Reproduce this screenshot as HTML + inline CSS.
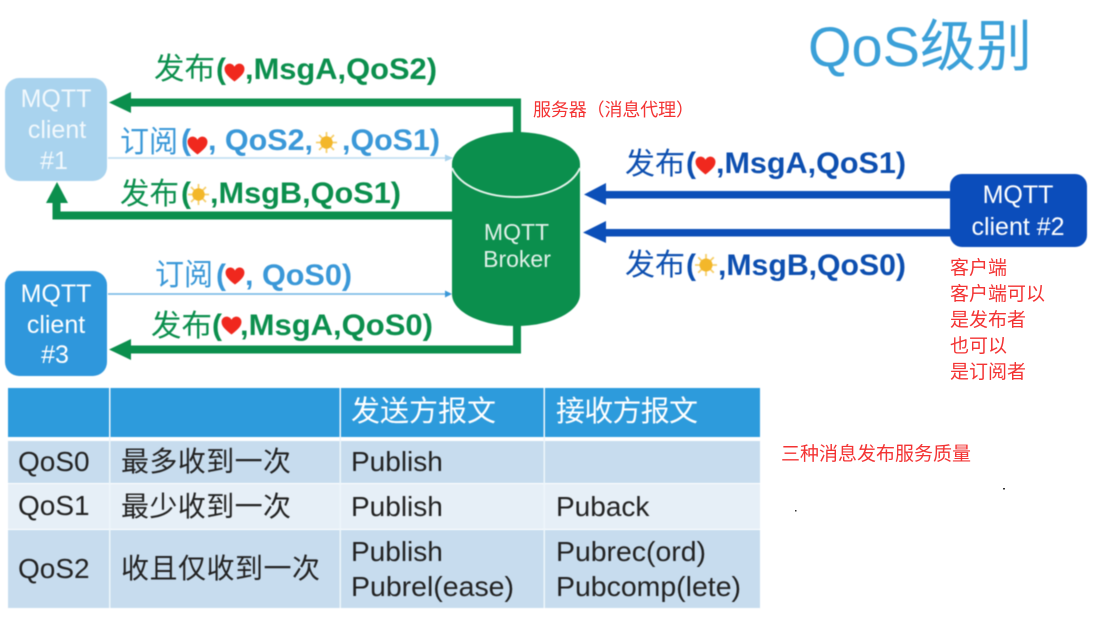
<!DOCTYPE html>
<html lang="zh">
<head>
<meta charset="utf-8">
<title>QoS级别</title>
<style>
html,body{margin:0;padding:0;background:#fff;width:1096px;height:618px;overflow:hidden}
svg{display:block}
text{font-family:"Liberation Sans","Noto Sans CJK SC",sans-serif}
.g{fill:#0b8f4d}.b{fill:#0d4fb0}.s{fill:#3a98d8}
.cj{font-size:30px;font-weight:400}
.la{font-size:30px;font-weight:700}
.w{fill:#fff;font-size:25px;text-anchor:middle}
.r{fill:#f33333;font-size:19px}
.t{fill:#222;font-size:28px}
.h{fill:#fff;font-size:29px}
.soft{filter:blur(.4px)}
</style>
</head>
<body>
<svg width="1096" height="618" viewBox="0 0 1096 618" xmlns="http://www.w3.org/2000/svg">
<defs>
<symbol id="heart" viewBox="0 0 22 20"><path d="M11 19.5C6 15.5 .5 11.5 .5 6.2 .5 2.8 3 .6 5.8 .6 8 .6 10 1.8 11 4 12 1.8 14 .6 16.2 .6 19 .6 21.500 2.800 21.500 6.200 21.500 11.500 16 15.500 11 19.500Z" fill="#f0281e"/></symbol>
<symbol id="sun" viewBox="0 0 24 24"><g stroke="#f6cf6b" stroke-width="1.800"><path d="M12 1v22M1 12h22M4.200 4.200l15.600 15.600M19.800 4.200 4.200 19.800"/></g><circle cx="12" cy="12" r="6.500" fill="#f3b72a"/></symbol>
</defs>

<g class="soft">
<!-- title -->
<text x="808" y="66" font-size="56" fill="#3ba0d8" textLength="224" lengthAdjust="spacingAndGlyphs">QoS级别</text>

<!-- green connectors -->
<path d="M517 135V102.500H128" fill="none" stroke="#0b8f4d" stroke-width="8"/>
<polygon points="109,102.500 131,92 131,113" fill="#0b8f4d"/>
<path d="M456 215.500H56.500V200" fill="none" stroke="#0b8f4d" stroke-width="8"/>
<polygon points="57,182 46,203 68,203" fill="#0b8f4d"/>
<path d="M517 322V349.500H128" fill="none" stroke="#0b8f4d" stroke-width="8"/>
<polygon points="109,349.500 131,339 131,360" fill="#0b8f4d"/>

<!-- thin subscribe lines -->
<line x1="108" y1="158" x2="447" y2="158" stroke="#bcdcf0" stroke-width="1.500"/>
<polygon points="453,158 445,154.500 445,161.500" fill="#a9d3ee"/>
<line x1="108" y1="294" x2="447" y2="294" stroke="#6db3e4" stroke-width="1.500"/>
<polygon points="452,294 445,290.500 445,297.500" fill="#3a98d8"/>

<!-- blue connectors -->
<rect x="600" y="191" width="355" height="7.500" fill="#0c4fb8"/>
<polygon points="584,194.500 606,183 606,205" fill="#0c4fb8"/>
<rect x="600" y="229" width="355" height="7.500" fill="#0c4fb8"/>
<polygon points="583,232.500 606,221 606,243" fill="#0c4fb8"/>

<!-- clients -->
<rect x="5" y="78" width="102" height="103" rx="14" fill="#a9d3ee"/>
<rect x="5" y="271" width="102" height="105" rx="14" fill="#2f97dc"/>
<rect x="950" y="174" width="137" height="73" rx="12" fill="#0b4dbb"/>
<text class="w" x="56" y="107" fill-opacity=".85">MQTT</text>
<text class="w" x="57" y="138" fill-opacity=".85">client</text>
<text class="w" x="54" y="169" fill-opacity=".85">#1</text>
<text class="w" x="56" y="302">MQTT</text>
<text class="w" x="56" y="333">client</text>
<text class="w" x="55" y="363">#3</text>
<text class="w" x="1018" y="203">MQTT</text>
<text class="w" x="1018" y="235">client #2</text>

<!-- broker -->
<path d="M452 164V294C452 312 481 326 516 326S580 312 580 294V164Z" fill="#0b8f4d"/>
<ellipse cx="516" cy="164" rx="64" ry="32" fill="#0b8f4d"/>
<path d="M452 168C460 186 486 197 516 197S572 186 580 168" fill="none" stroke="#e4f3ea" stroke-width="2"/>
<text x="516.500" y="240" font-size="23" fill="#e0f0e8" text-anchor="middle">MQTT</text>
<text x="517" y="267" font-size="23" fill="#e0f0e8" text-anchor="middle">Broker</text>

<!-- label 1 -->
<text class="g cj" x="154" y="79" textLength="61" lengthAdjust="spacingAndGlyphs">发布</text>
<text class="g la" x="216" y="79">(</text>
<use href="#heart" x="224" y="63" width="21" height="19"/>
<text class="g la" x="245" y="79" textLength="192" lengthAdjust="spacingAndGlyphs">,MsgA,QoS2)</text>

<!-- label 2 -->
<text class="s cj" x="120" y="152" textLength="58" lengthAdjust="spacingAndGlyphs">订阅</text>
<text class="s la" x="181" y="150">(</text>
<use href="#heart" x="187" y="136" width="21" height="19"/>
<text class="s la" x="208" y="150" textLength="105" lengthAdjust="spacingAndGlyphs">, QoS2,</text>
<use href="#sun" x="315" y="131" width="23" height="23"/>
<text class="s la" x="342" y="150" textLength="98" lengthAdjust="spacingAndGlyphs">,QoS1)</text>

<!-- label 3 -->
<text class="g cj" x="120" y="204" textLength="59" lengthAdjust="spacingAndGlyphs">发布</text>
<text class="g la" x="181" y="203">(</text>
<use href="#sun" x="187" y="183" width="23" height="23"/>
<text class="g la" x="210" y="203" textLength="191" lengthAdjust="spacingAndGlyphs">,MsgB,QoS1)</text>

<!-- label 4 -->
<text class="s cj" x="155" y="285" textLength="58" lengthAdjust="spacingAndGlyphs">订阅</text>
<text class="s la" x="216" y="285">(</text>
<use href="#heart" x="225" y="267" width="20" height="18"/>
<text class="s la" x="245" y="285" textLength="107" lengthAdjust="spacingAndGlyphs">, QoS0)</text>

<!-- label 5 -->
<text class="g cj" x="151" y="336" textLength="61" lengthAdjust="spacingAndGlyphs">发布</text>
<text class="g la" x="212" y="335">(</text>
<use href="#heart" x="221" y="316" width="21" height="19"/>
<text class="g la" x="240" y="335" textLength="193" lengthAdjust="spacingAndGlyphs">,MsgA,QoS0)</text>

<!-- right labels -->
<text class="b cj" x="625" y="174" textLength="60" lengthAdjust="spacingAndGlyphs">发布</text>
<text class="b la" x="686" y="173">(</text>
<use href="#heart" x="695" y="156" width="21" height="19"/>
<text class="b la" x="716" y="173" textLength="190" lengthAdjust="spacingAndGlyphs">,MsgA,QoS1)</text>
<text class="b cj" x="625" y="275" textLength="60" lengthAdjust="spacingAndGlyphs">发布</text>
<text class="b la" x="686" y="275">(</text>
<use href="#sun" x="694" y="253" width="24" height="24"/>
<text class="b la" x="718" y="275" textLength="188" lengthAdjust="spacingAndGlyphs">,MsgB,QoS0)</text>
</g>

<!-- red notes -->
<text class="r" x="533" y="116" style="font-size:18px" textLength="161" lengthAdjust="spacing">服务器（消息代理）</text>
<text class="r" x="950" y="274">客户端</text>
<text class="r" x="950" y="300">客户端可以</text>
<text class="r" x="950" y="326">是发布者</text>
<text class="r" x="950" y="352">也可以</text>
<text class="r" x="950" y="378">是订阅者</text>
<text class="r" x="781" y="460">三种消息发布服务质量</text>
<rect x="1003" y="488" width="2" height="1.500" fill="#333"/>
<rect x="795" y="510" width="1.500" height="1.500" fill="#333"/>

<g class="soft">
<!-- table -->
<rect x="8" y="388" width="752" height="49" fill="#2d9bdc"/>
<rect x="8" y="441" width="752" height="42" fill="#c7dcee"/>
<rect x="8" y="484" width="752" height="45" fill="#e6eff7"/>
<rect x="8" y="530" width="752" height="78" fill="#c7dcee"/>
<rect x="109" y="388" width="1.500" height="220" fill="#eef6fb"/>
<rect x="339.500" y="388" width="1.500" height="220" fill="#eef6fb"/>
<rect x="543.500" y="388" width="1.500" height="220" fill="#eef6fb"/>

<text class="h" x="351" y="421" textLength="145" lengthAdjust="spacing">发送方报文</text>
<text class="h" x="556" y="421" textLength="142" lengthAdjust="spacing">接收方报文</text>

<text class="t" x="18" y="471">QoS0</text>
<text class="t" x="121" y="471" textLength="170" lengthAdjust="spacing">最多收到一次</text>
<text class="t" x="351" y="471">Publish</text>

<text class="t" x="18" y="515">QoS1</text>
<text class="t" x="121" y="516" textLength="170" lengthAdjust="spacing">最少收到一次</text>
<text class="t" x="351" y="516">Publish</text>
<text class="t" x="556" y="516">Puback</text>

<text class="t" x="18" y="578">QoS2</text>
<text class="t" x="121" y="578" textLength="199" lengthAdjust="spacing">收且仅收到一次</text>
<text class="t" x="351" y="561">Publish</text>
<text class="t" x="351" y="596" textLength="163" lengthAdjust="spacingAndGlyphs">Pubrel(ease)</text>
<text class="t" x="556" y="561" textLength="150" lengthAdjust="spacingAndGlyphs">Pubrec(ord)</text>
<text class="t" x="556" y="596" textLength="185" lengthAdjust="spacingAndGlyphs">Pubcomp(lete)</text>
</g>
</svg>
</body>
</html>
